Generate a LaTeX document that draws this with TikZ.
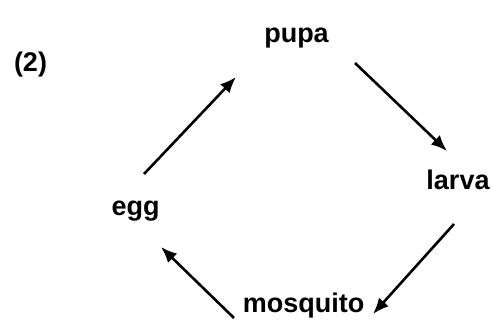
\documentclass[tikz,border=0pt]{standalone}
\usepackage{fontspec}
\setmainfont{Liberation Sans}
\usetikzlibrary{arrows.meta}
\begin{document}
\begin{tikzpicture}[x=1pt,y=1pt,
  lbl/.style={anchor=base,inner sep=0pt,font=\fontsize{27}{30}\selectfont\bfseries},
  arr/.style={line width=2.6pt,-{Latex[length=16pt,width=13pt,fill=black]}}]
\useasboundingbox (0,0) rectangle (492,320);
\node[lbl] (two) at (30.5,248) {(2)};
\node[lbl] (pupa) at (296.5,277) {pupa};
\node[lbl] (larva) at (458,130) {larva};
\node[lbl] (egg) at (135.5,104) {egg};
\node[lbl] (mosq) at (303.5,7) {mosquito};
\coordinate (a1s) at (144,146); \coordinate (a1e) at (236,243);
\coordinate (a2s) at (355,257); \coordinate (a2e) at (447,169);
\coordinate (a3s) at (454,96);  \coordinate (a3e) at (373,6);
\coordinate (a4s) at (234,2);   \coordinate (a4e) at (161,73);
\draw[arr] (a1s) -- (a1e);
\draw[arr] (a2s) -- (a2e);
\draw[arr] (a3s) -- (a3e);
\draw[arr] (a4s) -- (a4e);
\end{tikzpicture}
\end{document}
